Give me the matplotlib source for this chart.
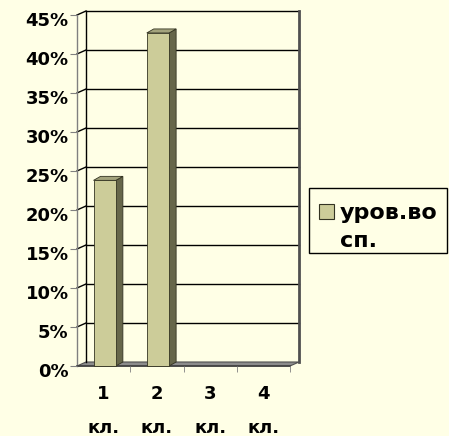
"""3D-style column chart: уров.во сп. by class."""
import matplotlib
matplotlib.use("Agg")
import matplotlib.pyplot as plt
import matplotlib.transforms as mtransforms
from matplotlib.patches import Polygon, Rectangle

# data
classes = ["1\nкл.", "2\nкл.", "3\nкл.", "4\nкл."]
values = [23.8, 42.7, 0.0, 0.0]          # percent
yticks = [0, 5, 10, 15, 20, 25, 30, 35, 40, 45]
series_name = "уров.во\nсп."

BG = "#FFFFE6"
FRONT = "#CCCC99"
SIDE = "#66664A"
TOP = "#A3A37D"
FLOOR = "#8C8C8C"

W, H = 449, 436
fig = plt.figure(figsize=(W / 100, H / 100), dpi=100, facecolor=BG)
plt.rcParams["font.family"] = ["DejaVu Sans"]


def fx(px):
    return px / W


def fy(py):
    return 1 - py / H


# front plane of the plot: x 77..290, y 15..366 px
ax = fig.add_axes([fx(77), fy(366), (290 - 77) / W, (366 - 15) / H])
ax.set_facecolor("none")
ax.set_xlim(-0.5, len(classes) - 0.5)
ax.set_ylim(0, yticks[-1])
for s in ax.spines.values():
    s.set_visible(False)

# depth of the 3D box, converted from pixels into data units
p0 = ax.transData.transform((0, 0))
p1 = ax.transData.transform((1, 1))
ddx = 9 / (p1[0] - p0[0])
ddy = 4 / (p1[1] - p0[1])
bdx = 7 / (p1[0] - p0[0])
bdy = 4 / (p1[1] - p0[1])

x0, x1 = -0.5, len(classes) - 0.5
ymax = yticks[-1]
kw = dict(clip_on=False)

# floor
ax.add_patch(Polygon([(x0, 0), (x1, 0), (x1 + ddx, ddy), (x0 + ddx, ddy)],
                     closed=True, fc=FLOOR, ec="#505050", lw=0.8, zorder=1, **kw))

# back wall gridlines + side wall slants
for t in yticks[1:]:
    ax.plot([x0 + ddx, x1 + ddx], [t + ddy, t + ddy], color="black", lw=1, zorder=1, **kw)
    ax.plot([x0, x0 + ddx], [t, t + ddy], color="black", lw=1, zorder=1, **kw)
ax.plot([x0 + ddx, x0 + ddx], [ddy, ymax + ddy], color="black", lw=1, zorder=1, **kw)
ax.plot([x1 + ddx, x1 + ddx], [ddy, ymax + ddy], color="#505050", lw=2, zorder=1, **kw)
ax.plot([x0, x0], [0, ymax], color="#808080", lw=1, zorder=1, **kw)
ax.plot([x0, x1], [0, 0], color="#404040", lw=1.2, zorder=1, **kw)

# bars
w = 0.42
for i, v in enumerate(values):
    if v <= 0:
        continue
    l, r = i - w / 2 + 0.02, i + w / 2 + 0.02
    ax.add_patch(Polygon([(r, 0), (r + bdx, bdy), (r + bdx, v + bdy), (r, v)],
                         closed=True, fc=SIDE, ec="#333322", lw=0.6, zorder=3, **kw))
    ax.add_patch(Polygon([(l, v), (r, v), (r + bdx, v + bdy), (l + bdx, v + bdy)],
                         closed=True, fc=TOP, ec="#333322", lw=0.6, zorder=3, **kw))
    ax.add_patch(Rectangle((l, 0), r - l, v, fc=FRONT, ec="#333322", lw=0.6,
                           zorder=4, **kw))

# axes ticks and labels
ax.set_yticks(yticks)
ax.set_yticklabels([f"{t}%" for t in yticks], fontsize=13, fontweight="bold")
ax.tick_params(axis="y", length=5, color="#808080", pad=1)
shift = mtransforms.ScaledTranslation(0, -4 / 100, fig.dpi_scale_trans)
for lab in ax.get_yticklabels():
    lab.set_transform(lab.get_transform() + shift)
ax.set_xticks(range(len(classes)))
ax.set_xticklabels(classes, fontsize=13, fontweight="bold")
for lab in ax.get_xticklabels():
    lab.set_linespacing(2.1)
ax.set_xticks([i + 0.5 for i in range(len(classes))], minor=True)
ax.tick_params(axis="x", which="major", length=0, pad=14)
ax.tick_params(axis="x", which="minor", length=4, color="#808080")

# legend
fig.patches.append(Rectangle((fx(309), fy(253)), (447 - 309) / W, (253 - 188) / H,
                             transform=fig.transFigure, fc=BG, ec="black", lw=1))
fig.patches.append(Rectangle((fx(319), fy(219)), 15 / W, 15 / H,
                             transform=fig.transFigure, fc=FRONT, ec="#333322", lw=0.8))
fig.text(fx(340), fy(203), series_name, fontsize=16, fontweight="bold",
         va="top", ha="left", linespacing=1.5)

fig.savefig("out.png", dpi=100, facecolor=BG)
